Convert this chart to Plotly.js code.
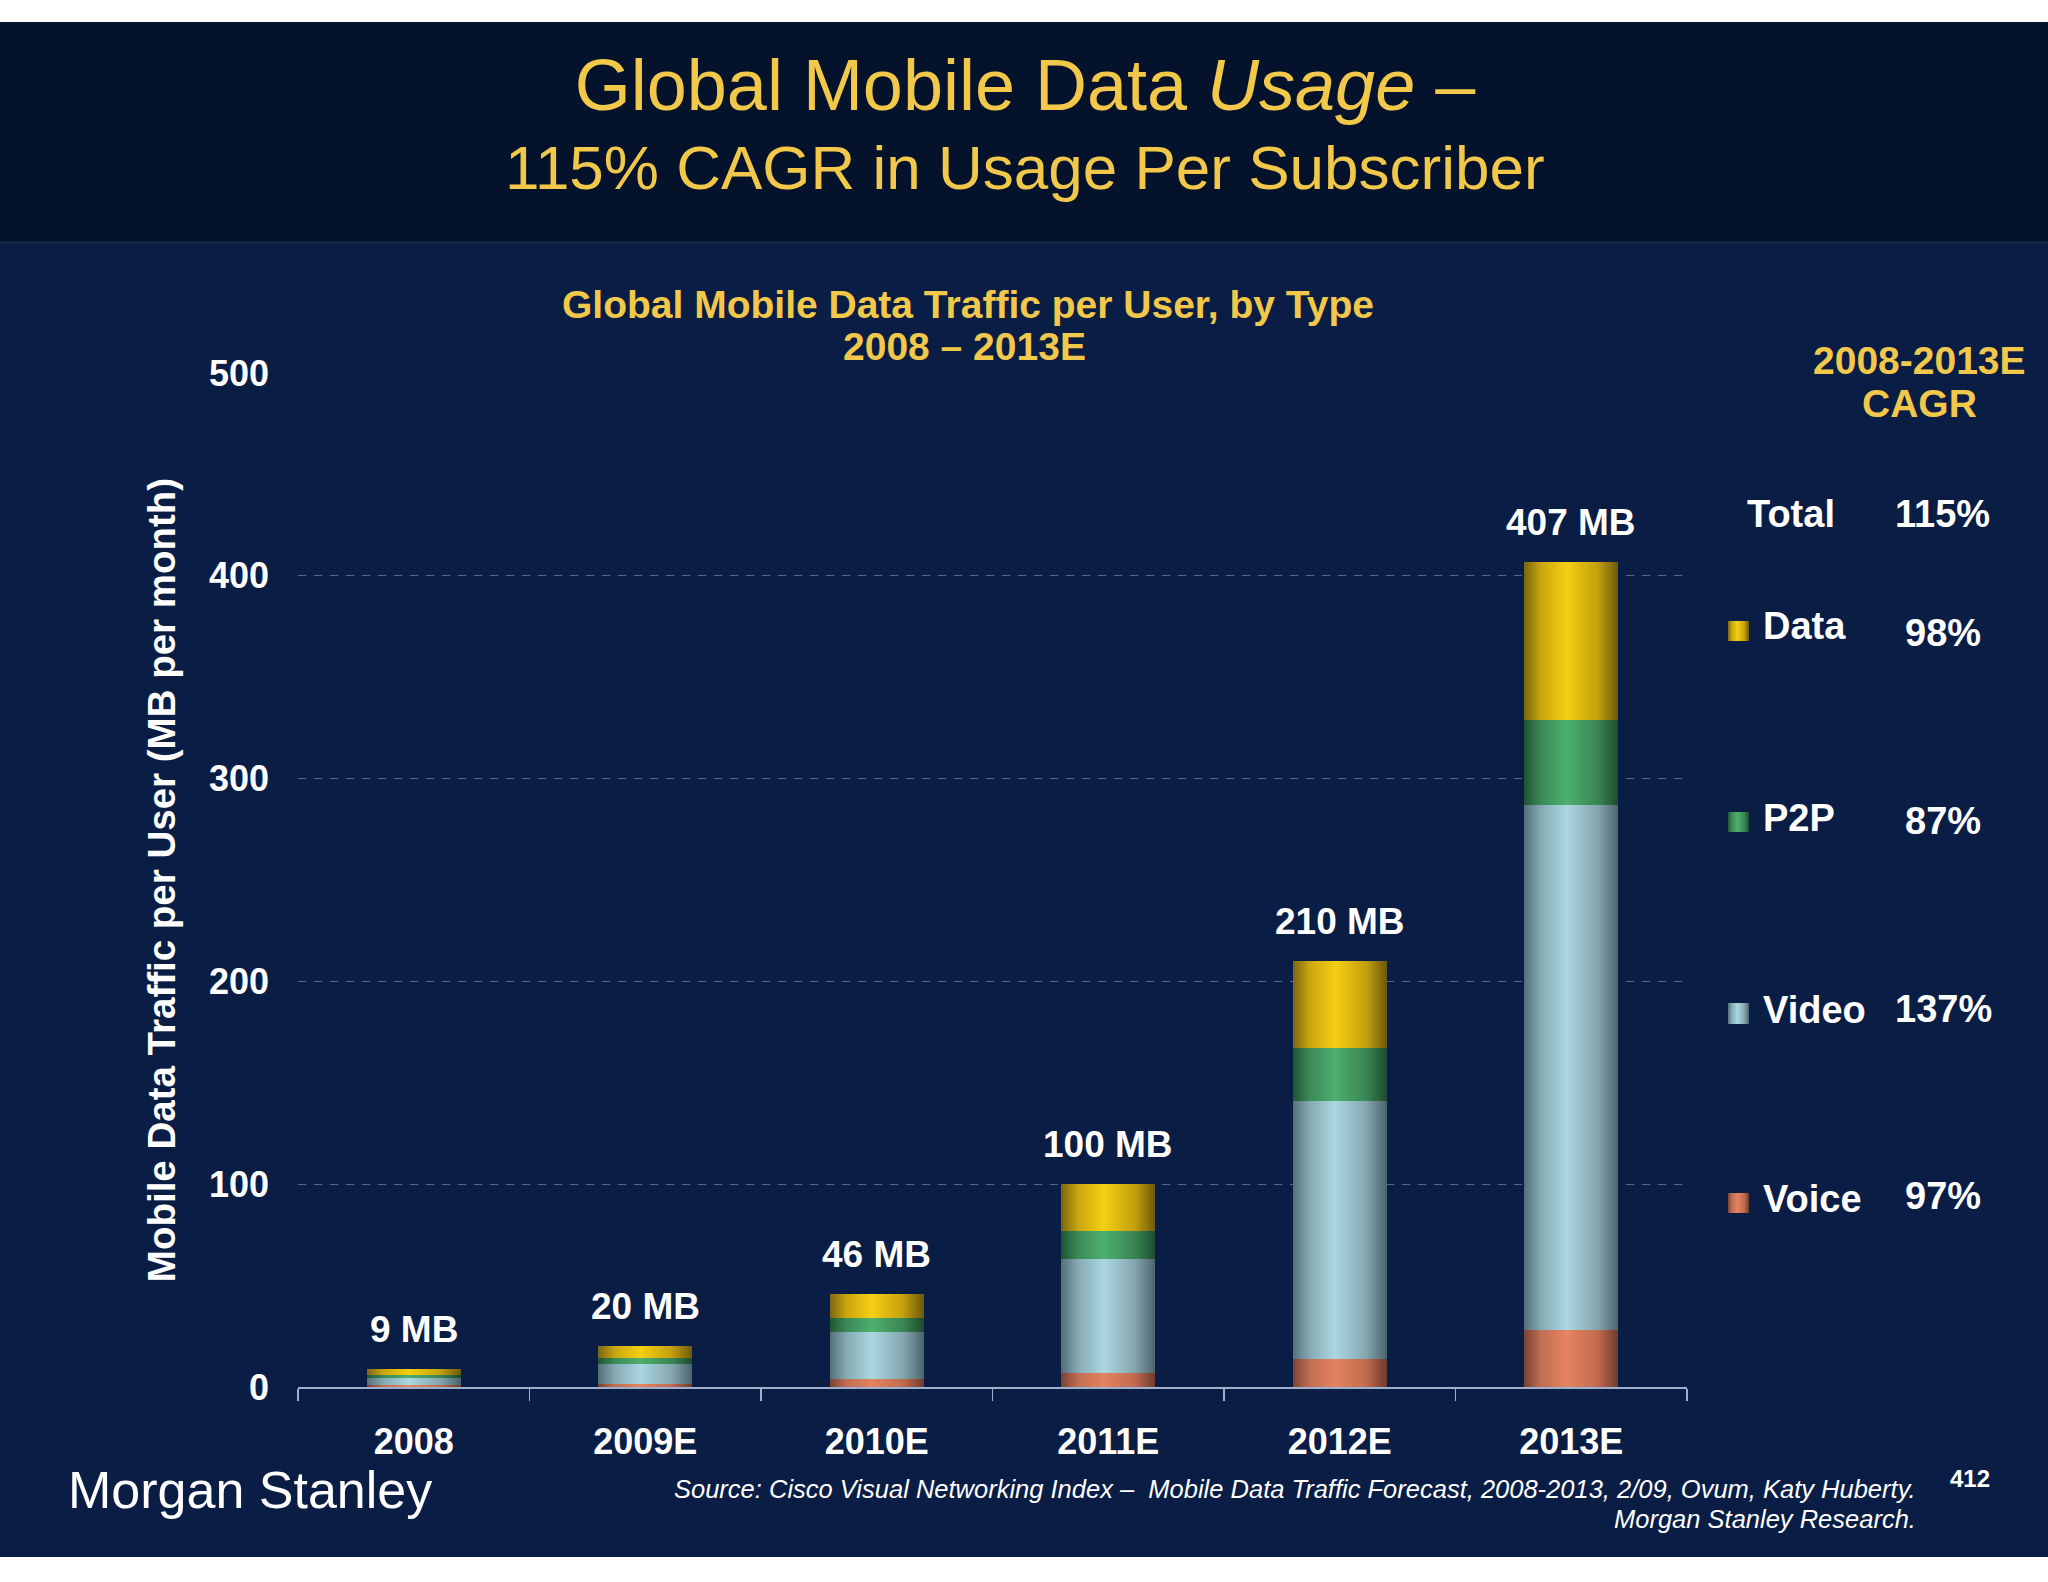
<!DOCTYPE html>
<html>
<head>
<meta charset="utf-8">
<script src="https://cdn.plot.ly/plotly-3.0.1.min.js"></script>
<style>
  html, body { margin: 0; padding: 0; background: #ffffff; overflow: hidden; }
  #chart { width: 2048px; height: 1582px; }
</style>
</head>
<body>
<div id="chart"></div>
<script>
// ---------------- data ----------------
const categories = ['2008', '2009E', '2010E', '2011E', '2012E', '2013E'];
const voice = [1.2, 1.3, 4, 7, 14, 28];
const video = [3.2, 10, 23, 56, 127, 259];
const p2p   = [1.3, 3, 7, 14, 26, 42];
const dataT = [3.3, 6, 12, 23, 43, 78];
const totalLabels = ['9 MB', '20 MB', '46 MB', '100 MB', '210 MB', '407 MB'];
const yTicks = [0, 100, 200, 300, 400, 500];

const cagrNames  = ['Data', 'P2P', 'Video', 'Voice'];
const cagrValues = ['98%', '87%', '137%', '97%'];
const cagrTotalName = 'Total';
const cagrTotalValue = '115%';

// ---------------- styling ----------------
const FONT = 'Liberation Sans, Arial, Helvetica, sans-serif';
const GOLD = '#F2C84B';
const WHITE = '#FFFFFF';

// colours: [edge-dark-left, mid, light-center, mid, edge-dark-right]
const grads = {
  Voice: ['#7a4332', '#c06e52', '#e4835f', '#c06b4f', '#6e3c2c'],
  Video: ['#546f79', '#86aab4', '#abd7e2', '#86a6ae', '#4c646c'],
  P2P:   ['#1f5534', '#3b8a57', '#4daf6e', '#3a8654', '#1c4c2e'],
  Data:  ['#7a6612', '#c9a60f', '#f5cf12', '#c4a00d', '#6c590c']
};
const seriesDefs = [
  {name: 'Voice', y: voice},
  {name: 'Video', y: video},
  {name: 'P2P',   y: p2p},
  {name: 'Data',  y: dataT}
];

const traces = seriesDefs.map(s => ({
  type: 'bar',
  name: s.name,
  x: categories,
  y: s.y,
  marker: {color: grads[s.name][2], line: {width: 0}},
  hoverinfo: 'skip'
}));

// plot area in pixels
const W = 2048, H = 1582;
const L = 298, R = 1687, T = 373, B = 1387;
const fx = p => (p - L) / (R - L);
const fy = p => (B - p) / (B - T);

// totals for label placement (sum of stacked series)
const totals = categories.map((c, i) => voice[i] + video[i] + p2p[i] + dataT[i]);

const annotations = [];
// value labels above bars (x given as category index)
categories.forEach((c, i) => {
  annotations.push({
    x: i, y: totals[i], xref: 'x', yref: 'y',
    text: totalLabels[i], showarrow: false,
    xanchor: 'center', yanchor: 'bottom', yshift: 17,
    font: {family: FONT, size: 37, color: WHITE, weight: 'bold'}
  });
});

function paperText(text, px, py, size, color, opts) {
  return Object.assign({
    xref: 'paper', yref: 'paper', x: fx(px), y: fy(py),
    text: text, showarrow: false, xanchor: 'center', yanchor: 'middle',
    font: {family: FONT, size: size, color: color}
  }, opts || {});
}

// title line 2
annotations.push(paperText('115% CAGR in Usage Per Subscriber', 1025, 167, 62, GOLD));
// chart subtitle
annotations.push(paperText('Global Mobile Data Traffic per User, by Type', 968, 304, 39, GOLD,
  {font: {family: FONT, size: 39, color: GOLD, weight: 'bold'}}));
annotations.push(paperText('2008 – 2013E', 964, 346, 39, GOLD,
  {font: {family: FONT, size: 39, color: GOLD, weight: 'bold'}}));
// CAGR header
annotations.push(paperText('2008-2013E', 1920, 361, 39, GOLD,
  {font: {family: FONT, size: 39, color: GOLD, weight: 'bold'}}));
annotations.push(paperText('CAGR', 1920, 403, 39, GOLD,
  {font: {family: FONT, size: 39, color: GOLD, weight: 'bold'}}));
// Total row
const bold38 = {family: FONT, size: 38, color: WHITE, weight: 'bold'};
annotations.push(paperText(cagrTotalName, 1745, 514, 38, WHITE, {xanchor: 'left', font: bold38}));
annotations.push(paperText(cagrTotalValue, 1893, 514, 38, WHITE, {xanchor: 'left', font: bold38}));

// legend rows
const rowNameY  = [626, 818, 1010, 1199];
const rowValY   = [633, 821, 1009, 1196];
const rowValX   = [1903, 1903, 1893, 1903];
const squareY   = [[621, 641], [812, 832], [1003, 1024], [1193, 1213]];
cagrNames.forEach((n, i) => {
  annotations.push(paperText(n, 1761, rowNameY[i], 38, WHITE, {xanchor: 'left', font: bold38}));
  annotations.push(paperText(cagrValues[i], rowValX[i], rowValY[i], 38, WHITE, {xanchor: 'left', font: bold38}));
});

// footer
annotations.push(paperText('Morgan Stanley', 66, 1490, 52, WHITE, {xanchor: 'left'}));
annotations.push(paperText('<i>Source: Cisco Visual Networking Index –  Mobile Data Traffic Forecast, 2008-2013, 2/09, Ovum, Katy Huberty.</i>',
  1918, 1489, 25.5, WHITE, {xanchor: 'right'}));
annotations.push(paperText('<i>Morgan Stanley Research.</i>', 1918, 1519, 25.5, WHITE, {xanchor: 'right'}));
annotations.push(paperText('412', 1970, 1478, 24, WHITE,
  {font: {family: FONT, size: 24, color: WHITE, weight: 'bold'}}));

// shapes: backgrounds + legend squares
const shapes = [
  {type: 'rect', xref: 'paper', yref: 'paper', x0: fx(0), x1: fx(W), y0: fy(22), y1: fy(241),
   fillcolor: '#04122b', line: {width: 0}, layer: 'below'},
  {type: 'rect', xref: 'paper', yref: 'paper', x0: fx(0), x1: fx(W), y0: fy(241), y1: fy(1557),
   fillcolor: '#0a1d44', line: {width: 0}, layer: 'below'},
  {type: 'rect', xref: 'paper', yref: 'paper', x0: fx(0), x1: fx(W), y0: fy(241), y1: fy(244),
   fillcolor: '#102447', line: {width: 0}, layer: 'below'}
];
const legendShapeStart = shapes.length;
cagrNames.forEach((n, i) => {
  shapes.push({type: 'rect', xref: 'paper', yref: 'paper',
    x0: fx(1728), x1: fx(1749), y0: fy(squareY[i][1]), y1: fy(squareY[i][0]),
    fillcolor: grads[n][2], line: {width: 0}, layer: 'above'});
});

const layout = {
  width: W, height: H,
  margin: {l: L, r: W - R, t: T, b: H - B, pad: 0, autoexpand: false},
  paper_bgcolor: '#ffffff',
  plot_bgcolor: 'rgba(0,0,0,0)',
  barmode: 'stack',
  bargap: 0.594,
  showlegend: false,
  font: {family: FONT, color: WHITE},
  title: {
    text: 'Global Mobile Data <i>Usage</i> –',
    xref: 'container', yref: 'container',
    x: 1025 / W, xanchor: 'center', y: 1 - 85 / H, yanchor: 'middle',
    font: {family: FONT, size: 72, color: GOLD}
  },
  xaxis: {
    type: 'category',
    categoryorder: 'array', categoryarray: categories,
    range: [-0.5, categories.length - 0.5], autorange: false,
    showgrid: false, zeroline: false,
    showline: true, linecolor: '#9fb0cc', linewidth: 1.5,
    ticks: 'outside', tickson: 'boundaries', ticklen: 12, tickcolor: '#9fb0cc', tickwidth: 1.5,
    tickfont: {family: FONT, size: 36, color: WHITE, weight: 'bold'},
    tickangle: 0,
    ticklabelstandoff: 22,
    fixedrange: true
  },
  yaxis: {
    range: [0, 500], autorange: false,
    tickvals: yTicks,
    ticktext: yTicks.map(String),
    showgrid: true, gridcolor: 'rgba(150,165,200,0.55)', gridwidth: 1, griddash: '8px,8px',
    zeroline: false, showline: false, ticks: '',
    tickfont: {family: FONT, size: 36, color: WHITE, weight: 'bold'},
    ticklabelstandoff: 28,
    title: {
      text: 'Mobile Data Traffic per User (MB per month)',
      font: {family: FONT, size: 38.5, color: WHITE, weight: 'bold'},
      standoff: 21
    },
    fixedrange: true
  },
  annotations: annotations,
  shapes: shapes
};

const gd = document.getElementById('chart');
Plotly.newPlot(gd, traces, layout, {staticPlot: true, displayModeBar: false}).then(applyGradients);

function applyGradients() {
  const ns = 'http://www.w3.org/2000/svg';
  const svg = gd.querySelector('svg.main-svg');
  let defs = svg.querySelector('defs');
  if (!defs) { defs = document.createElementNS(ns, 'defs'); svg.insertBefore(defs, svg.firstChild); }
  const offsets = [0, 0.18, 0.45, 0.78, 1];
  Object.keys(grads).forEach(k => {
    const lg = document.createElementNS(ns, 'linearGradient');
    lg.setAttribute('id', 'grad-' + k);
    lg.setAttribute('x1', '0'); lg.setAttribute('x2', '1');
    lg.setAttribute('y1', '0'); lg.setAttribute('y2', '0');
    grads[k].forEach((c, j) => {
      const st = document.createElementNS(ns, 'stop');
      st.setAttribute('offset', offsets[j]);
      st.setAttribute('stop-color', c);
      lg.appendChild(st);
    });
    defs.appendChild(lg);
  });
  const traceGroups = gd.querySelectorAll('.barlayer .trace');
  traceGroups.forEach((tg, i) => {
    const name = seriesDefs[i] ? seriesDefs[i].name : null;
    if (!name) return;
    tg.querySelectorAll('path').forEach(p => { p.style.fill = 'url(#grad-' + name + ')'; });
  });
  cagrNames.forEach((n, i) => {
    const p = gd.querySelector('.shapelayer path[data-index="' + (legendShapeStart + i) + '"]');
    if (p) p.style.fill = 'url(#grad-' + n + ')';
  });
}
</script>
</body>
</html>
